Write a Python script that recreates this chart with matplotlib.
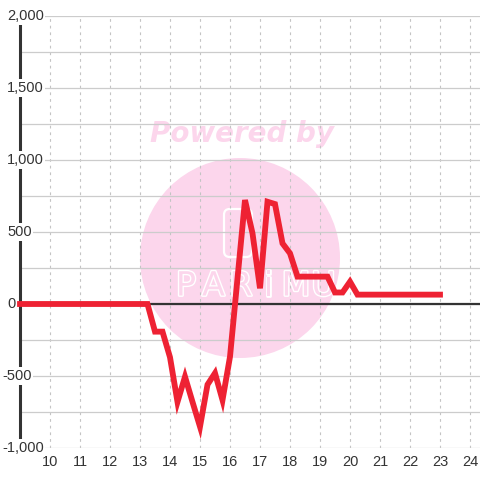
import numpy as np
import matplotlib
matplotlib.use('Agg')
import matplotlib.pyplot as plt
import matplotlib.patheffects as pe
from matplotlib.patches import Circle, FancyBboxPatch

# data (hour of day, value)
hours = [9.0, 13.25, 13.5, 13.75, 14.0, 14.25, 14.5, 14.75, 15.0, 15.25, 15.5,
         15.75, 16.0, 16.25, 16.5, 16.75, 17.0, 17.25, 17.5, 17.75, 18.0,
         18.25, 19.25, 19.5, 19.75, 20.0, 20.25, 23.0]
values = [0, 0, -192, -192, -370, -680, -505, -680, -852, -560, -480,
          -667, -366, 178, 722, 491, 109, 710, 694, 421, 352,
          190, 190, 80, 80, 155, 65, 65]

xticks = list(range(10, 25))
yticks = [-1000, -500, 0, 500, 1000, 1500, 2000]
ylabels = ['-1,000', '-500', '0', '500', '1,000', '1,500', '2,000']

W, H = 480, 480
fig = plt.figure(figsize=(4.8, 4.8), dpi=100)
ax = fig.add_axes([20 / W, 1 - 448 / H, 460 / W, 432 / H])

txt = '#333333'
red = '#ee2233'
pink = '#fcd6ec'

# watermark
ax.add_patch(Circle((240 / W, 1 - 258 / H), 100 / W, transform=fig.transFigure,
                    facecolor=pink, edgecolor='none', zorder=0.1))
ax.text(242 / W, 1 - 134 / H, 'Powered by', transform=fig.transFigure,
        ha='center', va='center', fontsize=20, fontweight='bold', style='italic',
        color=pink, zorder=0.2)
ax.add_patch(FancyBboxPatch((224 / W, 1 - 257 / H), 28 / W, 48 / H,
                            boxstyle='round,pad=0,rounding_size=0.012',
                            transform=fig.transFigure, facecolor='none',
                            edgecolor='white', lw=1.6, zorder=0.2))
for i, ch in enumerate('PARiMU'):
    ax.text((186 + 27.5 * i) / W, 1 - 286 / H, ch, transform=fig.transFigure,
            ha='center', va='center', fontsize=24, color=pink, zorder=0.2,
            family='DejaVu Sans',
            path_effects=[pe.withStroke(linewidth=2, foreground='white')])

ax.set_xlim(9, 9 + 460 / 30)
ax.set_ylim(-1000, 2000)

ax.set_axisbelow(True)
ax.set_xticks(xticks)
ax.set_yticks(np.arange(-1000, 2001, 250))
ax.set_yticklabels([])
ax.tick_params(axis='both', length=0)
ax.tick_params(axis='x', pad=5, labelsize=10.5, labelcolor=txt)
for lab in ax.get_xticklabels():
    lab.set_family('Liberation Sans')
ax.grid(axis='y', color='#cccccc', lw=0.9, ls='-')
ax.grid(axis='x', color='#c4c4c4', lw=0.8, ls=(0, (2.5, 3.5)))

for s in ['top', 'right', 'bottom']:
    ax.spines[s].set_visible(False)
ax.spines['left'].set_color(txt)
ax.spines['left'].set_linewidth(2.2)
ax.spines['left'].set_zorder(0.6)

ax.axhline(0, color=txt, lw=1.6, zorder=1.8)

ax.plot(hours, values, color=red, lw=4.2, solid_joinstyle='miter',
        solid_capstyle='projecting', zorder=3, clip_on=False)

# y labels sit over the axis line with a white box
ytr = ax.get_yaxis_transform()
for v, lab in zip(yticks, ylabels):
    px = 2 if v < 0 else 7
    ax.text((px - 20) / 460, v, lab, transform=ytr, ha='left', va='center',
            fontsize=10.5, color=txt, family='Liberation Sans', zorder=4,
            bbox=dict(facecolor='white', edgecolor='none', pad=1.2))

fig.savefig('out.png', dpi=100, facecolor='white')
